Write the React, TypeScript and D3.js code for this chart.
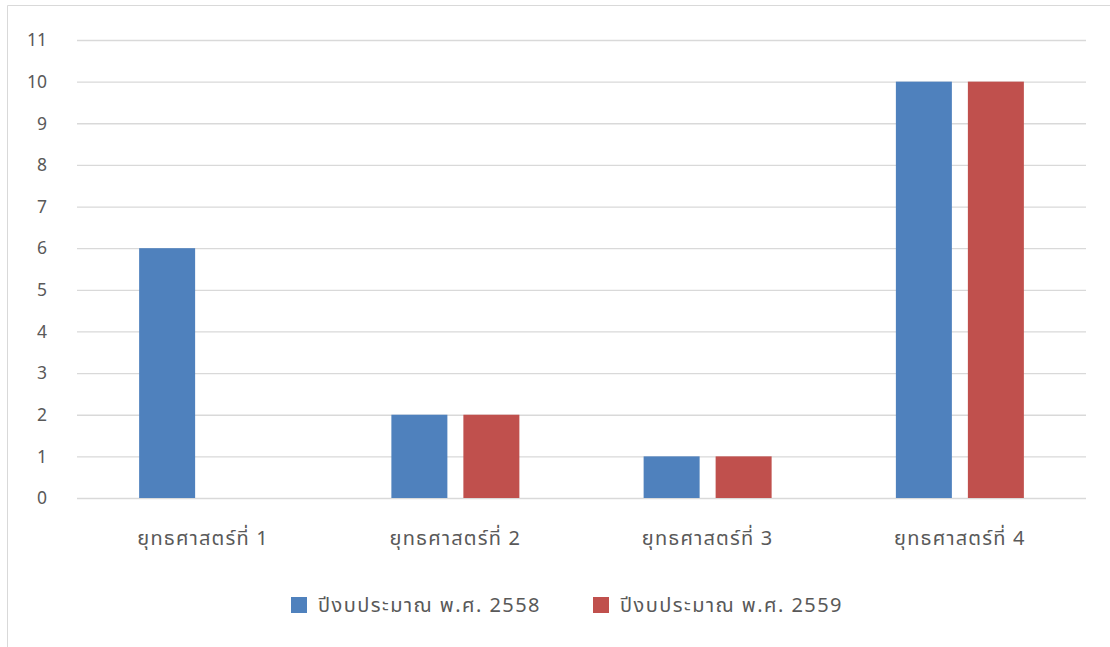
import React, { useEffect, useRef } from "react";
import * as d3 from "d3";

const categories = ["ยุทธศาสตร์ที่ 1", "ยุทธศาสตร์ที่ 2", "ยุทธศาสตร์ที่ 3", "ยุทธศาสตร์ที่ 4"];
const seriesNames = ["ปีงบประมาณ พ.ศ. 2558", "ปีงบประมาณ พ.ศ. 2559"];
const values2558 = [6, 2, 1, 10];
const values2559 = [0, 2, 1, 10];
const yTicks = [0, 1, 2, 3, 4, 5, 6, 7, 8, 9, 10, 11];
const colors = ["#4F81BD", "#C0504D"];

const W = 1110;
const H = 647;
const FONT = "'Noto Sans', 'Noto Sans Thai', Tahoma, sans-serif";

export default function App() {
  const svgRef = useRef<SVGSVGElement>(null);

  useEffect(() => {
    const svg = d3.select(svgRef.current);
    svg.selectAll("*").remove();

    const margin = { left: 77, right: 24, top: 40, bottom: 149 };

    // chart frame (runs off the right/bottom edges)
    svg
      .append("path")
      .attr("d", `M7.5,${H + 5} V5.5 H${W + 5}`)
      .attr("fill", "none")
      .attr("stroke", "#d9d9d9");

    const x = d3
      .scaleBand()
      .domain(categories)
      .range([margin.left, W - margin.right]);

    const y = d3
      .scaleLinear()
      .domain([0, 11])
      .range([H - margin.bottom, margin.top]);

    // grid
    svg
      .append("g")
      .attr("transform", `translate(${margin.left},0)`)
      .call(
        d3
          .axisLeft(y)
          .tickValues(yTicks)
          .tickSize(-(W - margin.left - margin.right))
          .tickFormat(() => "")
      )
      .call((g) => g.select(".domain").remove())
      .call((g) => g.selectAll("line").attr("stroke", "#d9d9d9").attr("stroke-width", 1.3));

    // y labels
    svg
      .append("g")
      .selectAll("text")
      .data(yTicks)
      .join("text")
      .attr("x", 47)
      .attr("y", (d) => y(d))
      .attr("dy", "0.36em")
      .attr("text-anchor", "end")
      .attr("font-family", FONT)
      .attr("font-size", 17.5)
      .attr("fill", "#595959")
      .text((d) => d);

    const barW = 56;
    const gap = 16;
    const series = [values2558, values2559];

    series.forEach((vals, si) => {
      svg
        .append("g")
        .selectAll("rect")
        .data(vals)
        .join("rect")
        .attr("x", (_, i) => {
          const c = x(categories[i])! + x.bandwidth() / 2;
          return si === 0 ? c - gap / 2 - barW : c + gap / 2;
        })
        .attr("y", (d) => y(d))
        .attr("width", barW)
        .attr("height", (d) => y(0) - y(d))
        .attr("fill", colors[si]);
    });

    // category labels
    svg
      .append("g")
      .selectAll("text")
      .data(categories)
      .join("text")
      .attr("x", (d) => x(d)! + x.bandwidth() / 2)
      .attr("y", 545)
      .attr("text-anchor", "middle")
      .attr("font-family", FONT)
      .attr("font-size", 20)
      .attr("letter-spacing", 1.2)
      .attr("fill", "#595959")
      .text((d) => d);

    // legend
    const legendX = [291, 593];
    const lg = svg.append("g");
    seriesNames.forEach((name, i) => {
      lg.append("rect")
        .attr("x", legendX[i])
        .attr("y", 597)
        .attr("width", 16)
        .attr("height", 16)
        .attr("fill", colors[i]);
      lg.append("text")
        .attr("x", legendX[i] + 27)
        .attr("y", 612)
        .attr("font-family", FONT)
        .attr("font-size", 20)
        .attr("letter-spacing", 1.45)
        .attr("fill", "#595959")
        .text(name);
    });
  }, []);

  return (
    <svg
      ref={svgRef}
      width={W}
      height={H}
      style={{ position: "absolute", left: 0, top: 0, background: "#fff" }}
    />
  );
}
